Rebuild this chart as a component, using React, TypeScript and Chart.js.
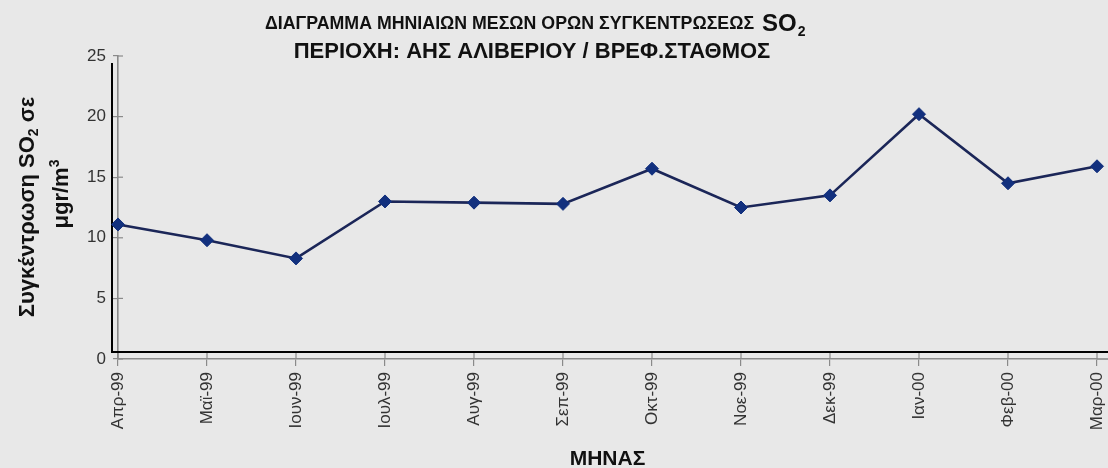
import React, { useEffect, useRef } from "react";
import { Chart, registerables } from "chart.js";

Chart.register(...registerables);

const months = ["Απρ-99", "Μαϊ-99", "Ιουν-99", "Ιουλ-99", "Αυγ-99", "Σεπ-99", "Οκτ-99", "Νοε-99", "Δεκ-99", "Ιαν-00", "Φεβ-00", "Μαρ-00"];
const so2Values = [11.1, 9.8, 8.3, 13.0, 12.9, 12.8, 15.7, 12.5, 13.5, 20.2, 14.5, 15.9];
const yTickValues = [0, 5, 10, 15, 20, 25];

const titleMain = "ΔΙΑΓΡΑΜΜΑ ΜΗΝΙΑΙΩΝ ΜΕΣΩΝ ΟΡΩΝ ΣΥΓΚΕΝΤΡΩΣΕΩΣ ";
const titleChem = "SO";
const titleSub = "2";
const subtitle = "ΠΕΡΙΟΧΗ: ΑΗΣ ΑΛΙΒΕΡΙΟΥ / ΒΡΕΦ.ΣΤΑΘΜΟΣ";
const yTitle1a = "Συγκέντρωση SO";
const yTitle1b = "2";
const yTitle1c = " σε";
const yTitle2a = "μgr/m";
const yTitle2b = "3";
const xTitle = "ΜΗΝΑΣ";

const FONT = "'Liberation Sans', Arial, sans-serif";
const BG = "#e8e8e8";
const AXIS_GRAY = "#8a8a8a";

const decorPlugin = {
  id: "decor",
  beforeDraw(chart: any) {
    const { ctx, width, height } = chart;
    ctx.save();
    ctx.fillStyle = BG;
    ctx.fillRect(0, 0, width, height);
    ctx.restore();
  },
  beforeDatasetsDraw(chart: any) {
    const { ctx, chartArea, width } = chart;
    const ca = chartArea;
    ctx.save();
    ctx.strokeStyle = "#000";
    ctx.lineWidth = 2;
    ctx.beginPath();
    ctx.moveTo(ca.left - 6, ca.top + 7);
    ctx.lineTo(ca.left - 6, ca.bottom - 7);
    ctx.lineTo(width, ca.bottom - 7);
    ctx.stroke();

    ctx.strokeStyle = AXIS_GRAY;
    ctx.lineWidth = 1.2;
    const ys = chart.scales.y;
    ys.ticks.forEach((t: any, i: number) => {
      const p = ys.getPixelForTick(i);
      ctx.beginPath();
      ctx.moveTo(ca.left, p);
      ctx.lineTo(ca.left + 5, p);
      ctx.stroke();
    });
    const xs = chart.scales.x;
    xs.ticks.forEach((t: any, i: number) => {
      const p = xs.getPixelForTick(i);
      ctx.beginPath();
      ctx.moveTo(p, ca.bottom);
      ctx.lineTo(p, ca.bottom - 6);
      ctx.stroke();
    });
    ctx.beginPath();
    ctx.moveTo(ca.right, ca.bottom);
    ctx.lineTo(width, ca.bottom);
    ctx.lineWidth = 1.6;
    ctx.stroke();
    ctx.restore();
  },
  afterDraw(chart: any) {
    const { ctx, chartArea } = chart;
    const ca = chartArea;
    ctx.save();
    ctx.fillStyle = "#111";
    ctx.textBaseline = "alphabetic";

    ctx.textAlign = "left";
    ctx.font = `bold 19px ${FONT}`;
    ctx.fillText(titleMain, 265, 29, 494);
    ctx.font = `bold 24px ${FONT}`;
    ctx.fillText(titleChem, 762, 31);
    const soW = ctx.measureText(titleChem).width;
    ctx.font = `bold 14px ${FONT}`;
    ctx.fillText(titleSub, 762 + soW + 1, 36);

    ctx.textAlign = "center";
    ctx.font = `bold 22px ${FONT}`;
    ctx.fillText(subtitle, 532, 58);

    ctx.font = `bold 21px ${FONT}`;
    ctx.fillText(xTitle, (ca.left + ca.right) / 2, 465);

    const drawRot = (parts: { t: string; size: number; dy: number }[], cx: number, cy: number) => {
      ctx.save();
      ctx.translate(cx, cy);
      ctx.rotate(-Math.PI / 2);
      ctx.textAlign = "left";
      let total = 0;
      parts.forEach((p) => {
        ctx.font = `bold ${p.size}px ${FONT}`;
        total += ctx.measureText(p.t).width;
      });
      let x = -total / 2;
      parts.forEach((p) => {
        ctx.font = `bold ${p.size}px ${FONT}`;
        ctx.fillText(p.t, x, p.dy);
        x += ctx.measureText(p.t).width;
      });
      ctx.restore();
    };
    drawRot(
      [
        { t: yTitle1a, size: 22, dy: 0 },
        { t: yTitle1b, size: 14, dy: 4 },
        { t: yTitle1c, size: 22, dy: 0 },
      ],
      34,
      207
    );
    drawRot(
      [
        { t: yTitle2a, size: 22, dy: 0 },
        { t: yTitle2b, size: 14, dy: -9 },
      ],
      68,
      194
    );
    ctx.restore();
  },
};

export default function App() {
  const canvasRef = useRef<HTMLCanvasElement | null>(null);

  useEffect(() => {
    const canvas = canvasRef.current;
    if (!canvas) return;
    const chart = new Chart(canvas, {
      type: "line",
      data: {
        labels: months,
        datasets: [
          {
            data: so2Values,
            borderColor: "#1b2658",
            borderWidth: 2.6,
            pointStyle: "rectRot",
            pointRadius: 6.5,
            pointHoverRadius: 6.5,
            pointBackgroundColor: "#12307e",
            pointBorderColor: "#12307e",
            pointBorderWidth: 1,
            tension: 0,
            fill: false,
            clip: false as any,
          },
        ],
      },
      options: {
        animation: false,
        responsive: false,
        maintainAspectRatio: false,
        devicePixelRatio: 1,
        layout: { padding: { left: 0, right: 11, top: 56, bottom: 0 } },
        plugins: {
          legend: { display: false },
          title: { display: false },
          tooltip: { enabled: false },
        },
        scales: {
          x: {
            type: "category",
            offset: false,
            grid: {
              display: true,
              drawOnChartArea: false,
              drawTicks: true,
              tickLength: 7,
              color: AXIS_GRAY,
              lineWidth: 1.2,
            },
            border: { display: true, color: AXIS_GRAY, width: 1.6 },
            ticks: {
              autoSkip: false,
              maxRotation: 90,
              minRotation: 90,
              padding: 6,
              color: "#333",
              font: { family: FONT, size: 17 },
            },
            afterFit: (scale: any) => {
              scale.height = 109;
              scale.paddingLeft = 0;
              scale.paddingRight = 0;
            },
          },
          y: {
            min: 0,
            max: 25,
            afterBuildTicks: (scale: any) => {
              scale.ticks = yTickValues.map((v) => ({ value: v }));
            },
            grid: {
              display: true,
              drawOnChartArea: false,
              drawTicks: true,
              tickLength: 5,
              color: AXIS_GRAY,
              lineWidth: 1.2,
            },
            border: { display: true, color: AXIS_GRAY, width: 1.6 },
            ticks: {
              padding: 7,
              color: "#333",
              font: { family: FONT, size: 17 },
            },
            afterFit: (scale: any) => {
              scale.width = 118;
              scale.paddingTop = 0;
              scale.paddingBottom = 0;
            },
          },
        },
      },
      plugins: [decorPlugin],
    });
    return () => chart.destroy();
  }, []);

  return (
    <div style={{ position: "fixed", left: 0, top: 0, width: 1108, height: 468, background: BG }}>
      <canvas ref={canvasRef} width={1108} height={468} style={{ display: "block", width: 1108, height: 468 }} />
    </div>
  );
}
